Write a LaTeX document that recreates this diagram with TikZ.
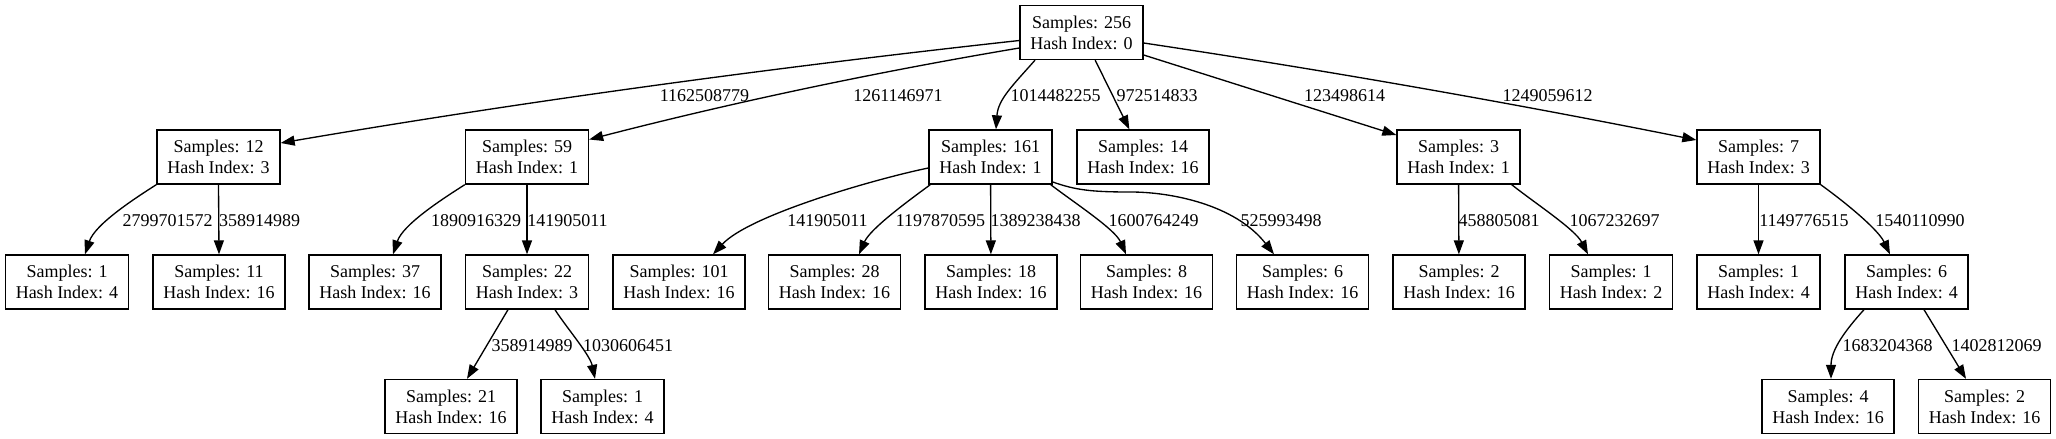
\documentclass[tikz,border=0pt]{standalone}
\usepackage{fontspec}
\setmainfont{Liberation Serif}
\usetikzlibrary{arrows.meta,calc}
\begin{document}
\begin{tikzpicture}[x=0.75pt,y=-0.75pt,
  box/.style={draw,line width=1pt,rectangle,minimum width=92.25pt,minimum height=40.5pt,inner sep=0pt,align=center,font=\fontsize{13.5}{15.75}\selectfont},
  wbox/.style={box,minimum width=99pt},
  lbl/.style={inner sep=0pt,font=\fontsize{13.5}{16}\selectfont},
  edge/.style={line width=1pt,-{Triangle[length=10.5pt,width=7.5pt]}}]
\useasboundingbox (0,0) rectangle (2056,439);
% level 0
\node[box] (n0) at (1081.5,32.5) {Samples: 256\\Hash Index: 0};
% level 1
\node[box] (n1) at (218.5,157) {Samples: 12\\Hash Index: 3};
\node[box] (n2) at (527,157) {Samples: 59\\Hash Index: 1};
\node[box] (n3) at (990.5,157) {Samples: 161\\Hash Index: 1};
\node[wbox] (n4) at (1143,157) {Samples: 14\\Hash Index: 16};
\node[box] (n5) at (1458.5,157) {Samples: 3\\Hash Index: 1};
\node[box] (n6) at (1758.5,157) {Samples: 7\\Hash Index: 3};
% level 2
\node[box] (n11) at (67,282) {Samples: 1\\Hash Index: 4};
\node[wbox] (n12) at (219,282) {Samples: 11\\Hash Index: 16};
\node[wbox] (n21) at (375,282) {Samples: 37\\Hash Index: 16};
\node[box] (n22) at (527,282) {Samples: 22\\Hash Index: 3};
\node[wbox] (n31) at (679,282) {Samples: 101\\Hash Index: 16};
\node[wbox] (n32) at (834.5,282) {Samples: 28\\Hash Index: 16};
\node[wbox] (n33) at (991,282) {Samples: 18\\Hash Index: 16};
\node[wbox] (n34) at (1146.5,282) {Samples: 8\\Hash Index: 16};
\node[wbox] (n35) at (1302.5,282) {Samples: 6\\Hash Index: 16};
\node[wbox] (n51) at (1459,282) {Samples: 2\\Hash Index: 16};
\node[box] (n52) at (1611,282) {Samples: 1\\Hash Index: 2};
\node[box] (n61) at (1758.5,282) {Samples: 1\\Hash Index: 4};
\node[box] (n62) at (1906.5,282) {Samples: 6\\Hash Index: 4};
% level 3
\node[wbox] (n221) at (451,406.5) {Samples: 21\\Hash Index: 16};
\node[box] (n222) at (602.5,406.5) {Samples: 1\\Hash Index: 4};
\node[wbox] (n621) at (1828,406.5) {Samples: 4\\Hash Index: 16};
\node[wbox] (n622) at (1984.5,406.5) {Samples: 2\\Hash Index: 16};
% edges from root
\draw[edge] ($(n0.west)+(0,8)$) .. controls +(-246,27) and +(246,-42) .. ($(n1.east)+(0,-14)$);
\draw[edge] ($(n0.west)+(0,15.5)$) .. controls +(-143,24) and +(143,-37) .. ($(n2.east)+(0,-17.5)$);
\draw[edge] ($(n0.south)+(-46.5,0)$) .. controls +(-22,25) and +(2,-30) .. ($(n3.north)+(5.5,0)$);
\draw[edge] (n0) -- (n4);
\draw[edge] ($(n0.east)+(0,22.5)$) -- ($(n5.west)+(0,-22)$);
\draw[edge] ($(n0.east)+(0,10.5)$) .. controls +(185,27.7) and +(-185,-37) .. ($(n6.west)+(0,-17)$);
% from n1
\draw[edge] (n1.south west) .. controls +(-22,14) and +(10,-30) .. ($(n11.north)+(18,0)$);
\draw[edge] (n1.south) -- (n12.north);
% from n2
\draw[edge] (n2.south west) .. controls +(-22,14) and +(10,-30) .. ($(n21.north)+(18,0)$);
\draw[edge] (n2) -- (n22);
% from n22
\draw[edge] ($(n22.south)+(-19,0)$) -- ($(n221.north)+(16,0)$);
\draw[edge] ($(n22.south)+(28,0)$) .. controls +(10,16) and +(-5,-24) .. ($(n222.north)+(-7.5,0)$);
% from n3
\draw[edge] ($(n3.west)+(0,11)$) .. controls +(-49,10) and +(37,-40) .. ($(n31.north)+(34,0)$);
\draw[edge] ($(n3.south west)+(2,0)$) .. controls +(-26,19) and +(11,-25) .. ($(n32.north)+(24.5,0)$);
\draw[edge] (n3) -- (n33);
\draw[edge] ($(n3.south east)+(-2,0)$) .. controls +(25,19) and +(-11,-25) .. ($(n34.north)+(-20.5,0)$);
\draw[edge] ($(n3.east)+(0,25)$) .. controls +(23,8) and +(-40,0) .. ($(n3.east)+(78,35)$) .. controls +(40,0) and +(-39,-50) .. ($(n35.north)+(-28.5,0)$);
% from n5
\draw[edge] (n5) -- (n51);
\draw[edge] ($(n5.south east)+(-9,0)$) .. controls +(24,19) and +(-13,-25) .. ($(n52.north)+(-23,0)$);
% from n6
\draw[edge] (n6) -- (n61);
\draw[edge] (n6.south east) .. controls +(25,18) and +(-12,-25) .. ($(n62.north)+(-16.5,0)$);
% from n62
\draw[edge] ($(n62.south)+(-42.5,0)$) .. controls +(-19,21) and +(0,-29) .. ($(n621.north)+(3,0)$);
\draw[edge] ($(n62.south)+(17.5,0)$) -- ($(n622.north)+(-18.5,0)$);
% labels level 1
\node[lbl] (l1) at (704.5,96) {1162508779};
\node[lbl] (l2) at (898,96) {1261146971};
\node[lbl] (l3) at (1055.5,96) {1014482255};
\node[lbl] (l4) at (1157,96) {972514833};
\node[lbl] (l5) at (1344.5,96) {123498614};
\node[lbl] (l6) at (1547.5,96) {1249059612};
% labels level 2
\node[lbl] (l11) at (167.5,221) {2799701572};
\node[lbl] (l12) at (259.5,221) {358914989};
\node[lbl] (l21) at (476,221) {1890916329};
\node[lbl] (l22) at (567.5,221) {141905011};
\node[lbl] (l31) at (827.5,221) {141905011};
\node[lbl] (l32) at (940.5,221) {1197870595};
\node[lbl] (l33) at (1035.5,221) {1389238438};
\node[lbl] (l34) at (1153.5,221) {1600764249};
\node[lbl] (l35) at (1281,221) {525993498};
\node[lbl] (l51) at (1499,221) {458805081};
\node[lbl] (l52) at (1614.5,221) {1067232697};
\node[lbl] (l61) at (1804,221) {1149776515};
\node[lbl] (l62) at (1920,221) {1540110990};
% labels level 3
\node[lbl] (l221) at (532,345.5) {358914989};
\node[lbl] (l222) at (628,345.5) {1030606451};
\node[lbl] (l621) at (1887.5,345.5) {1683204368};
\node[lbl] (l622) at (1996.5,345.5) {1402812069};
\end{tikzpicture}
\end{document}
